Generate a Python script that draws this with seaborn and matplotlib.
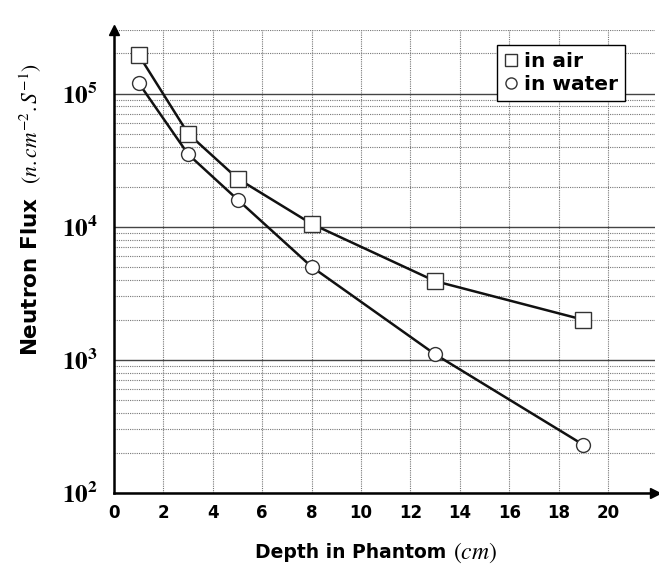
import numpy as np
import pandas as pd
import matplotlib
matplotlib.use("Agg")
import matplotlib.pyplot as plt
import seaborn as sns
from matplotlib.lines import Line2D
from matplotlib.ticker import FixedLocator, LogLocator, NullFormatter
from matplotlib.offsetbox import TextArea, HPacker, AnchoredOffsetbox

# ---- data ----
depth = [1, 3, 5, 8, 13, 19]
flux_air = [1.95e5, 5.0e4, 2.3e4, 1.05e4, 3.9e3, 2.0e3]
flux_water = [1.2e5, 3.5e4, 1.6e4, 5.0e3, 1.1e3, 2.3e2]
series_names = ["in air", "in water"]
x_ticks = [0, 2, 4, 6, 8, 10, 12, 14, 16, 18, 20]
x_tick_labels = ["0", "2", "4", "6", "8", "10", "12", "14", "16", "18", "20"]
y_ticks = [1e2, 1e3, 1e4, 1e5]
y_tick_labels = [r"$\mathbf{10^{2}}$", r"$\mathbf{10^{3}}$",
                 r"$\mathbf{10^{4}}$", r"$\mathbf{10^{5}}$"]
x_label_text = "Depth in Phantom"
x_label_unit = r"$(cm)$"
y_label = r"Neutron Flux  $(n.cm^{-2}.S^{-1})$"

df = pd.DataFrame({
    "depth": depth + depth,
    "flux": flux_air + flux_water,
    "series": [series_names[0]] * len(depth) + [series_names[1]] * len(depth),
})

sns.set_style("white")
plt.rcParams["font.family"] = ["DejaVu Sans"]
plt.rcParams["mathtext.fontset"] = "stix"
plt.rcParams["text.color"] = "black"
plt.rcParams["axes.labelcolor"] = "black"
plt.rcParams["xtick.color"] = "black"
plt.rcParams["ytick.color"] = "black"

fig = plt.figure(figsize=(6.59, 5.72), dpi=100)
ax = fig.add_axes([114 / 659, 1 - 493 / 572, (655 - 114) / 659, (493 - 30) / 572])

sns.lineplot(data=df, x="depth", y="flux", hue="series", style="series",
             markers={series_names[0]: "s", series_names[1]: "o"}, dashes=False,
             palette={series_names[0]: "#111111", series_names[1]: "#111111"},
             linewidth=1.8, legend=False, ax=ax, zorder=3)
for ln in ax.lines:
    ln.set_markerfacecolor("white")
    ln.set_markeredgecolor("#333333")
    ln.set_markeredgewidth(1.0)
    ln.set_markersize(11 if ln.get_marker() == "s" else 10)
    ln.set_zorder(3)

ax.set_yscale("log")
ax.set_ylim(1e2, 3e5)
ax.set_xlim(0, 21.9)

ax.yaxis.set_major_locator(FixedLocator(y_ticks))
ax.set_yticklabels(y_tick_labels, fontsize=18)
ax.yaxis.set_minor_locator(LogLocator(base=10, subs=np.arange(2, 10)))
ax.yaxis.set_minor_formatter(NullFormatter())
ax.set_xticks(x_ticks)
ax.set_xticklabels(x_tick_labels, fontsize=12, fontweight="bold")
ax.tick_params(axis="both", which="both", length=0, colors="black")
ax.tick_params(axis="x", pad=8)
ax.tick_params(axis="y", pad=12)

ax.grid(which="major", axis="y", color="#444444", lw=1.0, ls="-")
ax.grid(which="minor", axis="y", color="#777777", lw=0.8, ls=(0, (1, 1)))
ax.grid(which="major", axis="x", color="#777777", lw=0.8, ls=(0, (1, 1)))
ax.set_axisbelow(True)

for s in ["top", "right"]:
    ax.spines[s].set_visible(False)
for s in ["left", "bottom"]:
    ax.spines[s].set_color("black")
    ax.spines[s].set_linewidth(1.8)
ax.plot(0, 1, marker="^", color="black", ms=7, transform=ax.transAxes, clip_on=False)
ax.plot(1, 0, marker=">", color="black", ms=7, transform=ax.transAxes, clip_on=False)

# y label
ax.set_ylabel(y_label, fontsize=15.5, fontweight="bold")
ax.yaxis.set_label_coords((44 - 114) / 541, (493 - 210) / 463)

# x label: bold text + larger italic unit
ax.set_xlabel("")
ta1 = TextArea(x_label_text, textprops=dict(fontsize=13.5, fontweight="bold", color="black"))
ta2 = TextArea(x_label_unit, textprops=dict(fontsize=17, color="black"))
box = HPacker(children=[ta1, ta2], align="baseline", pad=0, sep=5)
anch = AnchoredOffsetbox(loc="center", child=box, frameon=False,
                         bbox_to_anchor=(376 / 659, 1 - 552 / 572),
                         bbox_transform=fig.transFigure, borderpad=0, pad=0)
fig.add_artist(anch)

handles = [
    Line2D([], [], marker="s", ls="none", mfc="white", mec="#333333", mew=1.0, ms=8),
    Line2D([], [], marker="o", ls="none", mfc="white", mec="#333333", mew=1.0, ms=8),
]
leg = ax.legend(handles, series_names, loc="upper right",
                bbox_to_anchor=((625 - 114) / 541, (493 - 45) / 463),
                prop={"weight": "bold", "size": 14.5}, frameon=True, fancybox=False,
                framealpha=1, edgecolor="black", handlelength=0.7, handletextpad=0.3,
                borderpad=0.35, labelspacing=0.2, borderaxespad=0)
leg.get_frame().set_linewidth(1.0)

fig.savefig("out.png", dpi=100)
